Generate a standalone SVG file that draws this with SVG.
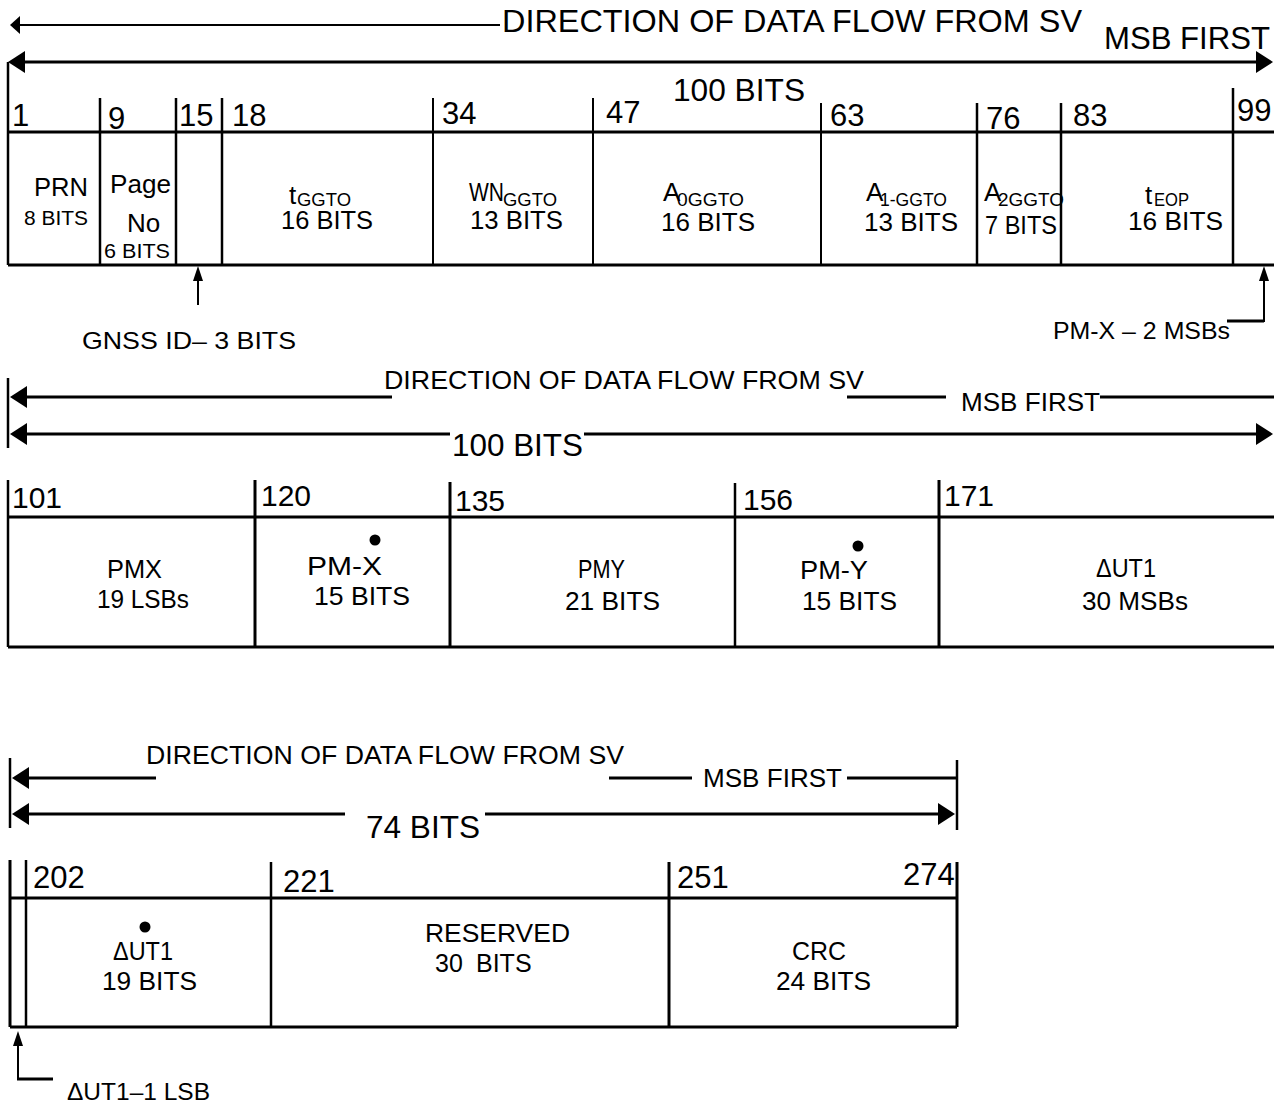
<svg xmlns="http://www.w3.org/2000/svg" width="1274" height="1105" viewBox="0 0 1274 1105">
<style>
text{font-family:"Liberation Sans",Arial,sans-serif;fill:#000}
.f32{font-size:32px}.f31{font-size:31px}.f30{font-size:30px}.f26{font-size:26px}.f25{font-size:25px}.f24{font-size:24px}.f20{font-size:20px}.f18{font-size:18px}
.ln{stroke:#000;fill:none;stroke-width:3}
.tk{stroke:#000;fill:none;stroke-width:2.5}
.th{stroke:#000;fill:none;stroke-width:2}
</style>
<defs>
<marker id="ah" viewBox="0 0 17 22" refX="13" refY="11" markerWidth="17" markerHeight="22" markerUnits="userSpaceOnUse" orient="auto-start-reverse"><path d="M0,0 L17,11 L0,22 z" fill="#000"/></marker>
<marker id="ahs" viewBox="0 0 10 18" refX="7" refY="9" markerWidth="10" markerHeight="18" markerUnits="userSpaceOnUse" orient="auto-start-reverse"><path d="M0,0 L10,9 L0,18 z" fill="#000"/></marker>
<marker id="ahu" viewBox="0 0 15 10" refX="12" refY="5" markerWidth="15" markerHeight="10" markerUnits="userSpaceOnUse" orient="auto"><path d="M0,0 L15,5 L0,10 z" fill="#000"/></marker>
</defs>

<g id="connectors">
<line class="th" x1="500" y1="25" x2="13" y2="25" marker-end="url(#ahs)"/>
<line class="ln" x1="12" y1="62" x2="1269" y2="62" marker-start="url(#ah)" marker-end="url(#ah)"/>
<line class="th" x1="198" y1="305" x2="198" y2="269" marker-end="url(#ahu)"/>
<path class="ln" d="M1227,321 H1264"/>
<line class="th" x1="1264" y1="322" x2="1264" y2="269" marker-end="url(#ahu)"/>
<line class="tk" x1="8" y1="378" x2="8" y2="448"/>
<line class="ln" x1="392" y1="397" x2="14" y2="397" marker-end="url(#ah)"/>
<line class="ln" x1="847" y1="397" x2="946" y2="397"/>
<line class="ln" x1="1100" y1="397" x2="1274" y2="397"/>
<line class="ln" x1="450" y1="434" x2="14" y2="434" marker-end="url(#ah)"/>
<line class="ln" x1="584" y1="434" x2="1269" y2="434" marker-end="url(#ah)"/>
<line class="tk" x1="10" y1="758" x2="10" y2="828"/>
<line class="tk" x1="957" y1="760" x2="957" y2="830"/>
<line class="ln" x1="156" y1="778" x2="16" y2="778" marker-end="url(#ah)"/>
<line class="ln" x1="609" y1="778" x2="692" y2="778"/>
<line class="ln" x1="847" y1="778" x2="957" y2="778"/>
<line class="ln" x1="345" y1="814" x2="16" y2="814" marker-end="url(#ah)"/>
<line class="ln" x1="485" y1="814" x2="951" y2="814" marker-end="url(#ah)"/>
<line class="th" x1="18" y1="1079" x2="18" y2="1034" marker-end="url(#ahu)"/>
<path class="ln" d="M17,1079 H53"/>
</g>

<g id="header-top">
<text class="f31" x="502" y="32" textLength="580" lengthAdjust="spacingAndGlyphs">DIRECTION OF DATA FLOW FROM SV</text>
<text class="f31" x="1104" y="49" textLength="166" lengthAdjust="spacingAndGlyphs">MSB FIRST</text>
<text class="f32" x="673" y="101" textLength="132" lengthAdjust="spacingAndGlyphs">100 BITS</text>
</g>

<g id="frame-top">
<line class="tk" x1="8" y1="62" x2="8" y2="265"/>
<line class="ln" x1="8" y1="132" x2="1274" y2="132"/>
<line class="ln" x1="8" y1="265" x2="1274" y2="265"/>
<line class="tk" x1="100" y1="98" x2="100" y2="265"/>
<line class="tk" x1="176" y1="98" x2="176" y2="265"/>
<line class="tk" x1="222" y1="98" x2="222" y2="265"/>
<line class="th" x1="433" y1="98" x2="433" y2="265"/>
<line class="th" x1="593" y1="98" x2="593" y2="265"/>
<line class="th" x1="821" y1="103" x2="821" y2="265"/>
<line class="tk" x1="977" y1="103" x2="977" y2="265"/>
<line class="tk" x1="1061" y1="103" x2="1061" y2="265"/>
<line class="tk" x1="1233" y1="88" x2="1233" y2="265"/>
<g class="f31">
<text x="12" y="126">1</text>
<text x="108" y="129">9</text>
<text x="179" y="126">15</text>
<text x="232" y="126">18</text>
<text x="442" y="124">34</text>
<text x="606" y="123">47</text>
<text x="830" y="126">63</text>
<text x="986" y="129">76</text>
<text x="1073" y="126">83</text>
<text x="1237" y="121">99</text>
</g>
</g>

<g id="node-prn">
<text class="f26" x="34" y="196" textLength="54" lengthAdjust="spacingAndGlyphs">PRN</text>
<text class="f20" x="24" y="225" textLength="64" lengthAdjust="spacingAndGlyphs">8 BITS</text>
</g>
<g id="node-pageno">
<text class="f26" x="110" y="193" textLength="61" lengthAdjust="spacingAndGlyphs">Page</text>
<text class="f26" x="127" y="232">No</text>
<text class="f20" x="104" y="258" textLength="66" lengthAdjust="spacingAndGlyphs">6 BITS</text>
</g>
<g id="node-gnssid">
<text class="f24" x="82" y="349" textLength="214" lengthAdjust="spacingAndGlyphs">GNSS ID– 3 BITS</text>
</g>
<g id="node-tggto">
<text class="f26" x="289" y="204">t<tspan class="f18" x="297" y="206" textLength="54" lengthAdjust="spacingAndGlyphs">GGTO</tspan></text>
<text class="f26" x="281" y="229" textLength="92" lengthAdjust="spacingAndGlyphs">16 BITS</text>
</g>
<g id="node-wnggto">
<text class="f26" x="469" y="201" textLength="35" lengthAdjust="spacingAndGlyphs">WN</text>
<text class="f18" x="503" y="206" textLength="54" lengthAdjust="spacingAndGlyphs">GGTO</text>
<text class="f26" x="470" y="229" textLength="93" lengthAdjust="spacingAndGlyphs">13 BITS</text>
</g>
<g id="node-a0">
<text class="f26" x="663" y="201">A<tspan class="f18" x="677" y="206" textLength="67" lengthAdjust="spacingAndGlyphs">0GGTO</tspan></text>
<text class="f26" x="661" y="231" textLength="94" lengthAdjust="spacingAndGlyphs">16 BITS</text>
</g>
<g id="node-a1">
<text class="f26" x="866" y="201">A<tspan class="f18" x="880" y="206" textLength="67" lengthAdjust="spacingAndGlyphs">1-GGTO</tspan></text>
<text class="f26" x="864" y="231" textLength="94" lengthAdjust="spacingAndGlyphs">13 BITS</text>
</g>
<g id="node-a2">
<text class="f26" x="984" y="201">A<tspan class="f18" x="998" y="206" textLength="66" lengthAdjust="spacingAndGlyphs">2GGTO</tspan></text>
<text class="f26" x="985" y="234" textLength="72" lengthAdjust="spacingAndGlyphs">7 BITS</text>
</g>
<g id="node-teop">
<text class="f26" x="1145" y="204">t<tspan class="f18" x="1154" y="206" textLength="35" lengthAdjust="spacingAndGlyphs">EOP</tspan></text>
<text class="f26" x="1128" y="230" textLength="95" lengthAdjust="spacingAndGlyphs">16 BITS</text>
</g>
<g id="node-pmx-msb">
<text class="f24" x="1053" y="339" textLength="177" lengthAdjust="spacingAndGlyphs">PM-X – 2 MSBs</text>
</g>

<g id="header-middle">
<text class="f26" x="384" y="389" textLength="480" lengthAdjust="spacingAndGlyphs">DIRECTION OF DATA FLOW FROM SV</text>
<text class="f26" x="961" y="411" textLength="139" lengthAdjust="spacingAndGlyphs">MSB FIRST</text>
<text class="f31" x="452" y="456" textLength="131" lengthAdjust="spacingAndGlyphs">100 BITS</text>
</g>

<g id="frame-middle">
<line class="tk" x1="8" y1="480" x2="8" y2="647"/>
<line class="ln" x1="8" y1="517" x2="1274" y2="517"/>
<line class="ln" x1="8" y1="647" x2="1274" y2="647"/>
<line class="ln" x1="255" y1="480" x2="255" y2="647"/>
<line class="ln" x1="450" y1="482" x2="450" y2="647"/>
<line class="tk" x1="735" y1="483" x2="735" y2="647"/>
<line class="ln" x1="939" y1="480" x2="939" y2="647"/>
<g class="f30">
<text x="12" y="508">101</text>
<text x="261" y="506">120</text>
<text x="455" y="511">135</text>
<text x="743" y="510">156</text>
<text x="944" y="506">171</text>
</g>
</g>

<g id="node-pmx">
<text class="f25" x="107" y="578" textLength="55" lengthAdjust="spacingAndGlyphs">PMX</text>
<text class="f25" x="97" y="608" textLength="92" lengthAdjust="spacingAndGlyphs">19 LSBs</text>
</g>
<g id="node-pmxdot">
<circle cx="375" cy="540" r="5.5"/>
<text class="f25" x="307" y="575" textLength="75" lengthAdjust="spacingAndGlyphs">PM-X</text>
<text class="f25" x="314" y="605" textLength="96" lengthAdjust="spacingAndGlyphs">15 BITS</text>
</g>
<g id="node-pmy">
<text class="f25" x="578" y="578" textLength="47" lengthAdjust="spacingAndGlyphs">PMY</text>
<text class="f25" x="565" y="610" textLength="95" lengthAdjust="spacingAndGlyphs">21 BITS</text>
</g>
<g id="node-pmydot">
<circle cx="858" cy="546" r="5.5"/>
<text class="f25" x="800" y="579" textLength="68" lengthAdjust="spacingAndGlyphs">PM-Y</text>
<text class="f25" x="802" y="610" textLength="95" lengthAdjust="spacingAndGlyphs">15 BITS</text>
</g>
<g id="node-dut1-msb">
<text class="f25" x="1096" y="577" textLength="60" lengthAdjust="spacingAndGlyphs">ΔUT1</text>
<text class="f25" x="1082" y="610" textLength="106" lengthAdjust="spacingAndGlyphs">30 MSBs</text>
</g>

<g id="header-bottom">
<text class="f26" x="146" y="764" textLength="478" lengthAdjust="spacingAndGlyphs">DIRECTION OF DATA FLOW FROM SV</text>
<text class="f26" x="703" y="787" textLength="139" lengthAdjust="spacingAndGlyphs">MSB FIRST</text>
<text class="f32" x="366" y="838" textLength="114" lengthAdjust="spacingAndGlyphs">74 BITS</text>
</g>

<g id="frame-bottom">
<line class="ln" x1="10" y1="860" x2="10" y2="1027"/>
<line class="tk" x1="26" y1="860" x2="26" y2="1027"/>
<line class="ln" x1="10" y1="898" x2="957" y2="898"/>
<line class="ln" x1="10" y1="1027" x2="957" y2="1027"/>
<line class="tk" x1="271" y1="862" x2="271" y2="1027"/>
<line class="ln" x1="669" y1="862" x2="669" y2="1027"/>
<line class="ln" x1="957" y1="862" x2="957" y2="1027"/>
<g class="f31">
<text x="33" y="888">202</text>
<text x="283" y="892">221</text>
<text x="677" y="888">251</text>
<text x="903" y="885">274</text>
</g>
</g>

<g id="node-dut1dot">
<circle cx="145" cy="927" r="5.5"/>
<text class="f25" x="113" y="960" textLength="60" lengthAdjust="spacingAndGlyphs">ΔUT1</text>
<text class="f25" x="102" y="990" textLength="95" lengthAdjust="spacingAndGlyphs">19 BITS</text>
</g>
<g id="node-reserved">
<text class="f25" x="425" y="942" textLength="145" lengthAdjust="spacingAndGlyphs">RESERVED</text>
<text class="f25" x="435" y="972">30<tspan x="476">BITS</tspan></text>
</g>
<g id="node-crc">
<text class="f25" x="792" y="960" textLength="54" lengthAdjust="spacingAndGlyphs">CRC</text>
<text class="f25" x="776" y="990" textLength="95" lengthAdjust="spacingAndGlyphs">24 BITS</text>
</g>
<g id="node-dut1-lsb">
<text class="f24" x="67" y="1100" textLength="143" lengthAdjust="spacingAndGlyphs">ΔUT1–1 LSB</text>
</g>
</svg>
